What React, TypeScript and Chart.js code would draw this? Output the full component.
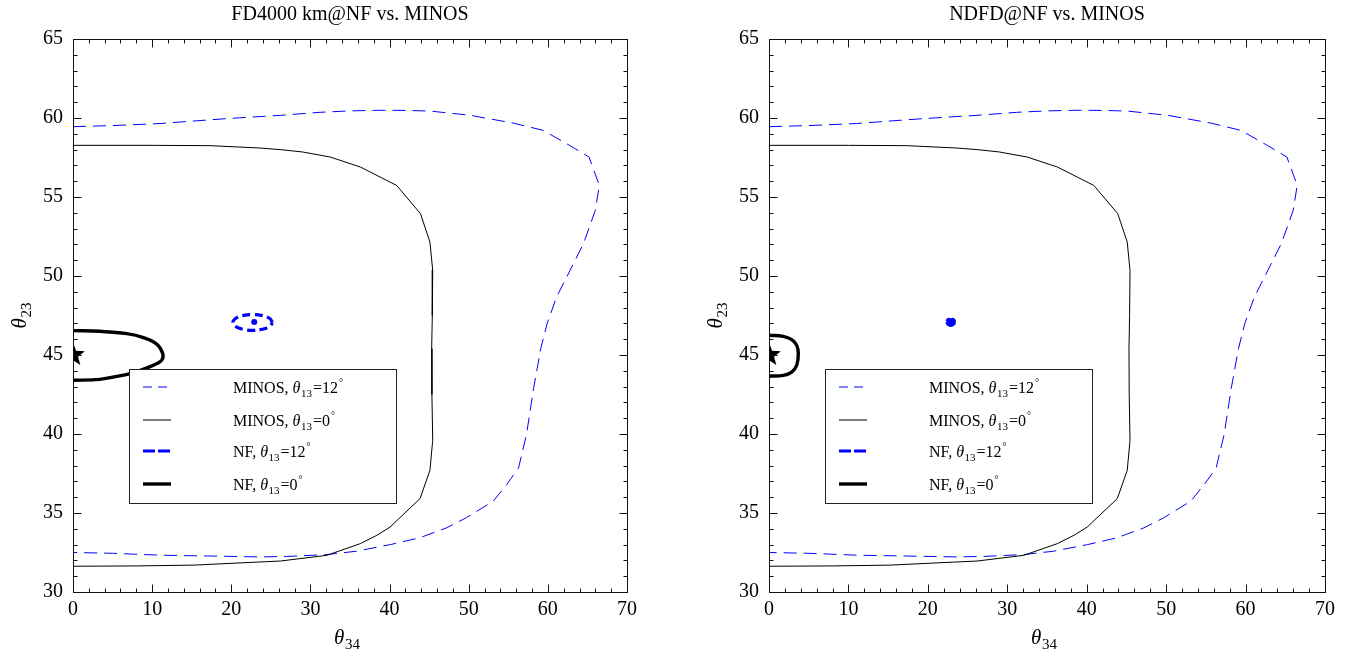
import React, { useEffect, useRef } from 'react';
import { Chart, registerables } from 'chart.js';

Chart.register(...registerables);

const SERIF = "'Liberation Serif', 'Times New Roman', serif";

// axis ticks
const xTicks = [0, 10, 20, 30, 40, 50, 60, 70];
const yTicks = [30, 35, 40, 45, 50, 55, 60, 65];
const xMinorStep = 2;
const yMinorStep = 1;

const titles = ['FD4000 km@NF vs. MINOS', 'NDFD@NF vs. MINOS'];

// MINOS, theta13 = 12 deg (blue dashed)
const minos12: [number, number][] = [
  [0, 59.45], [5, 59.52], [11, 59.65], [15, 59.8], [19.4, 59.96], [26.2, 60.17], [31.2, 60.36],
  [35, 60.45], [38.8, 60.49], [42, 60.48], [45.1, 60.44], [50.2, 60.17], [55.6, 59.68],
  [59.4, 59.22], [62.8, 58.25], [65.2, 57.53], [66.5, 55.74], [66.0, 54.16], [64.5, 52.05],
  [62.8, 50.35], [61.1, 48.67], [59.9, 46.98], [59.1, 45.4], [58.6, 44.0], [58.2, 42.9],
  [57.3, 39.97], [56.3, 37.86], [54.8, 36.8], [53.1, 35.75], [49.7, 34.7], [47.2, 34.06],
  [43.8, 33.43], [40.1, 33.0], [35.8, 32.58], [32.1, 32.37], [27, 32.25], [23.6, 32.22],
  [17, 32.28], [11, 32.33], [5, 32.45], [0, 32.5],
];

// MINOS, theta13 = 0 deg (black solid)
const minos0: [number, number][] = [
  [0, 58.27], [10, 58.27], [17.3, 58.25], [23.6, 58.1], [26.2, 58.0], [29, 57.85], [32.5, 57.53],
  [36.3, 56.9], [40.9, 55.73], [43.9, 53.95], [45.1, 52.15], [45.45, 50.36], [45.4, 47.5],
  [45.32, 45.4], [45.35, 42.5], [45.45, 39.6], [45.1, 37.7], [43.85, 35.91], [40.06, 34.11],
  [38.4, 33.59], [36.3, 33.06], [32.06, 32.32], [26.2, 31.96], [23.6, 31.9], [15.2, 31.7],
  [8, 31.65], [0, 31.63],
];

// NF, theta13 = 0 deg (thick black) - left panel
const nf0Left: [number, number][] = [
  [0, 46.54], [3.4, 46.5], [6.8, 46.35], [8.9, 46.1], [10.6, 45.68], [11.33, 45.09],
  [11.2, 44.67], [10.15, 44.35], [8.5, 44.03], [7.1, 43.8], [5.9, 43.68], [3.4, 43.46], [0, 43.4],
];

// NF, theta13 = 12 deg (thick blue dashed) - left panel
const nf12Left: [number, number][] = [
  [25.2, 47.06], [24.87, 47.31], [23.95, 47.49], [22.7, 47.56], [21.45, 47.49], [20.53, 47.31],
  [20.2, 47.06], [20.53, 46.81], [21.45, 46.63], [22.7, 46.56], [23.95, 46.63], [24.87, 46.81],
  [25.2, 47.06],
];
const nf12LeftCenter: [number, number][] = [[22.9, 47.09]];

// NF, theta13 = 0 deg - right panel
const nf0Right: [number, number][] = [
  [0, 46.25], [1.8, 46.18], [2.86, 45.97], [3.49, 45.61], [3.69, 45.09], [3.49, 44.35],
  [2.86, 43.92], [1.8, 43.71], [0, 43.67],
];

// NF, theta13 = 12 deg - right panel (tiny region)
const nf12Right: [number, number][] = [
  [22.4, 47.12], [22.55, 47.24], [22.75, 47.24], [22.88, 47.17], [23.0, 47.24], [23.2, 47.24],
  [23.35, 47.12], [23.2, 46.94], [22.88, 46.88], [22.55, 46.94], [22.4, 47.12],
];

const bestFit: [number, number][] = [[0, 45]];

const legendRows = [
  { label: 'MINOS, ', value: '12', color: '#0000ff', width: 1, dash: [9, 6] },
  { label: 'MINOS, ', value: '0', color: '#000000', width: 1, dash: [] as number[] },
  { label: 'NF, ', value: '12', color: '#0000ff', width: 3.2, dash: [12, 3] },
  { label: 'NF, ', value: '0', color: '#000000', width: 3.4, dash: [] as number[] },
];

type Part = { text: string; size: number; italic?: boolean; dy?: number; gap?: number };

function fontOf(p: Part) {
  return `${p.italic ? 'italic ' : ''}${p.size}px ${SERIF}`;
}

function drawRich(ctx: CanvasRenderingContext2D, parts: Part[], x: number, y: number, align: 'left' | 'center') {
  let total = 0;
  const widths = parts.map((p) => {
    ctx.font = fontOf(p);
    const w = ctx.measureText(p.text).width + (p.gap || 0);
    total += w;
    return w;
  });
  let cx = align === 'center' ? x - total / 2 : x;
  ctx.textAlign = 'left';
  ctx.textBaseline = 'alphabetic';
  parts.forEach((p, i) => {
    ctx.font = fontOf(p);
    ctx.fillText(p.text, cx, y + (p.dy || 0));
    cx += widths[i];
  });
}

function makeStar(): HTMLCanvasElement {
  const c = document.createElement('canvas');
  c.width = 28;
  c.height = 28;
  const g = c.getContext('2d')!;
  g.fillStyle = '#000';
  g.beginPath();
  const R = 12.5, r = 5.3;
  for (let i = 0; i < 10; i++) {
    const ang = -Math.PI / 2 + (i * Math.PI) / 5;
    const rad = i % 2 === 0 ? R : r;
    const px = 14 + rad * Math.cos(ang);
    const py = 14 + rad * Math.sin(ang);
    if (i === 0) g.moveTo(px, py); else g.lineTo(px, py);
  }
  g.closePath();
  g.fill();
  return c;
}

const toXY = (arr: [number, number][]) => arr.map(([x, y]) => ({ x, y }));

function lineDs(arr: [number, number][], color: string, width: number, dash: number[], tension = 0) {
  return {
    data: toXY(arr),
    showLine: true,
    borderColor: color,
    backgroundColor: color,
    borderWidth: width,
    borderDash: dash,
    borderJoinStyle: 'round' as const,
    pointRadius: 0,
    fill: false,
    tension,
  };
}

function framePlugin() {
  return {
    id: 'framePlugin',
    afterDatasetsDraw(chart: any) {
      const { ctx, chartArea } = chart;
      const xs = chart.scales.x;
      const ys = chart.scales.y;
      const L = Math.round(chartArea.left) + 0.5;
      const R = Math.round(chartArea.right) + 0.5;
      const T = Math.round(chartArea.top) + 0.5;
      const B = Math.round(chartArea.bottom) + 0.5;
      ctx.save();
      ctx.strokeStyle = '#111';
      ctx.lineWidth = 1;
      ctx.setLineDash([]);
      ctx.strokeRect(L, T, R - L, B - T);
      ctx.beginPath();
      for (let v = xTicks[0]; v <= xTicks[xTicks.length - 1] + 1e-9; v += xMinorStep) {
        const px = Math.round(xs.getPixelForValue(v)) + 0.5;
        const len = xTicks.includes(v) ? 8 : 4;
        ctx.moveTo(px, B); ctx.lineTo(px, B - len);
        ctx.moveTo(px, T); ctx.lineTo(px, T + len);
      }
      for (let v = yTicks[0]; v <= yTicks[yTicks.length - 1] + 1e-9; v += yMinorStep) {
        const py = Math.round(ys.getPixelForValue(v)) + 0.5;
        const len = yTicks.includes(v) ? 8 : 4;
        ctx.moveTo(L, py); ctx.lineTo(L + len, py);
        ctx.moveTo(R, py); ctx.lineTo(R - len, py);
      }
      ctx.stroke();

      // legend box
      const bx = chartArea.left + 56;
      const by = chartArea.top + 330;
      const bw = 267;
      const bh = 134;
      ctx.fillStyle = '#fff';
      ctx.fillRect(bx, by, bw, bh);
      ctx.strokeStyle = '#222';
      ctx.lineWidth = 1;
      ctx.strokeRect(Math.round(bx) + 0.5, Math.round(by) + 0.5, bw, bh);
      const rowOffsets = [18, 51, 82, 115];
      legendRows.forEach((row, i) => {
        const ry = by + rowOffsets[i];
        ctx.save();
        ctx.strokeStyle = row.color;
        ctx.lineWidth = row.width;
        ctx.setLineDash(row.dash);
        ctx.beginPath();
        ctx.moveTo(bx + 14, ry);
        ctx.lineTo(bx + 42, ry);
        ctx.stroke();
        ctx.restore();
        ctx.fillStyle = '#000';
        drawRich(
          ctx,
          [
            { text: row.label, size: 16 },
            { text: 'θ', size: 16, italic: true, gap: 0.5 },
            { text: '13', size: 11, dy: 4, gap: 1 },
            { text: '=', size: 16 },
            { text: row.value, size: 16, gap: 1 },
            { text: '°', size: 10, dy: -7 },
          ],
          bx + 104,
          ry + 6,
          'left'
        );
      });
      ctx.restore();
    },
    afterDraw(chart: any) {
      const { ctx, chartArea } = chart;
      ctx.save();
      ctx.fillStyle = '#000';
      const cx = (chartArea.left + chartArea.right) / 2 - 3;
      drawRich(ctx, [{ text: 'θ', size: 21, italic: true, gap: 0.5 }, { text: '34', size: 15, dy: 5 }], cx, 644, 'center');
      const cy = (chartArea.top + chartArea.bottom) / 2;
      ctx.translate(chartArea.left - 47, cy);
      ctx.rotate(-Math.PI / 2);
      drawRich(ctx, [{ text: 'θ', size: 21, italic: true, gap: 0.5 }, { text: '23', size: 15, dy: 5 }], 0, 0, 'center');
      ctx.restore();
    },
  };
}

function buildChart(canvas: HTMLCanvasElement, panel: number, padRight: number, star: HTMLCanvasElement) {
  const nf0 = panel === 0 ? nf0Left : nf0Right;
  const nf12 = panel === 0 ? nf12Left : nf12Right;
  const datasets: any[] = [
    {
      data: toXY(bestFit),
      showLine: false,
      pointStyle: star,
      pointRadius: 12,
    },
    lineDs(nf0, '#000000', 3.4, [], 0.4),
    lineDs(nf12, '#0000ff', 3.2, panel === 0 ? [8, 4.5] : [], 0.4),
    lineDs(minos0, '#000000', 1, []),
    lineDs(minos12, '#0000ff', 1, [13, 7]),
  ];
  if (panel === 0) {
    datasets.push({
      data: toXY(nf12LeftCenter),
      showLine: false,
      pointRadius: 3,
      pointBackgroundColor: '#0000ff',
      pointBorderWidth: 0,
    });
  } else {
    datasets.push({
      data: [{ x: 22.88, y: 47.06 }],
      showLine: false,
      pointRadius: 3,
      pointBackgroundColor: '#0000ff',
      pointBorderWidth: 0,
    });
  }
  const tickFont = { family: SERIF, size: 20 };
  return new Chart(canvas, {
    type: 'scatter',
    data: { datasets },
    options: {
      animation: false,
      responsive: false,
      events: [],
      layout: { padding: { top: 0, left: 0, right: padRight, bottom: 0 } },
      plugins: {
        legend: { display: false },
        tooltip: { enabled: false },
        title: {
          display: true,
          text: titles[panel],
          fullSize: false,
          color: '#000',
          font: { family: SERIF, size: 20, weight: 'normal' },
          padding: { top: 3, bottom: 12 },
        },
      },
      scales: {
        x: {
          type: 'linear',
          min: xTicks[0],
          max: xTicks[xTicks.length - 1],
          grid: { display: false, drawTicks: false },
          border: { display: false },
          ticks: {
            stepSize: 10,
            padding: 6,
            color: '#000',
            font: tickFont,
            maxRotation: 0,
            autoSkip: false,
          },
          afterFit: (s: any) => {
            s.height = 64;
          },
        },
        y: {
          type: 'linear',
          min: yTicks[0],
          max: yTicks[yTicks.length - 1],
          grid: { display: false, drawTicks: false },
          border: { display: false },
          ticks: {
            stepSize: 5,
            padding: 10,
            color: '#000',
            font: tickFont,
            autoSkip: false,
          },
          afterFit: (s: any) => {
            s.width = 73;
          },
        },
      },
    } as any,
    plugins: [framePlugin()],
  });
}

export default function App() {
  const leftRef = useRef<HTMLCanvasElement>(null);
  const rightRef = useRef<HTMLCanvasElement>(null);

  useEffect(() => {
    const star = makeStar();
    const c1 = buildChart(leftRef.current!, 0, 48, star);
    const c2 = buildChart(rightRef.current!, 1, 26, star);
    return () => {
      c1.destroy();
      c2.destroy();
    };
  }, []);

  return (
    <div style={{ position: 'absolute', left: 0, top: 0, width: 1351, height: 656, background: '#fff' }}>
      <canvas
        ref={leftRef}
        width={675}
        height={656}
        style={{ position: 'absolute', left: 0, top: 0, width: 675, height: 656 }}
      />
      <canvas
        ref={rightRef}
        width={655}
        height={656}
        style={{ position: 'absolute', left: 696, top: 0, width: 655, height: 656 }}
      />
    </div>
  );
}
